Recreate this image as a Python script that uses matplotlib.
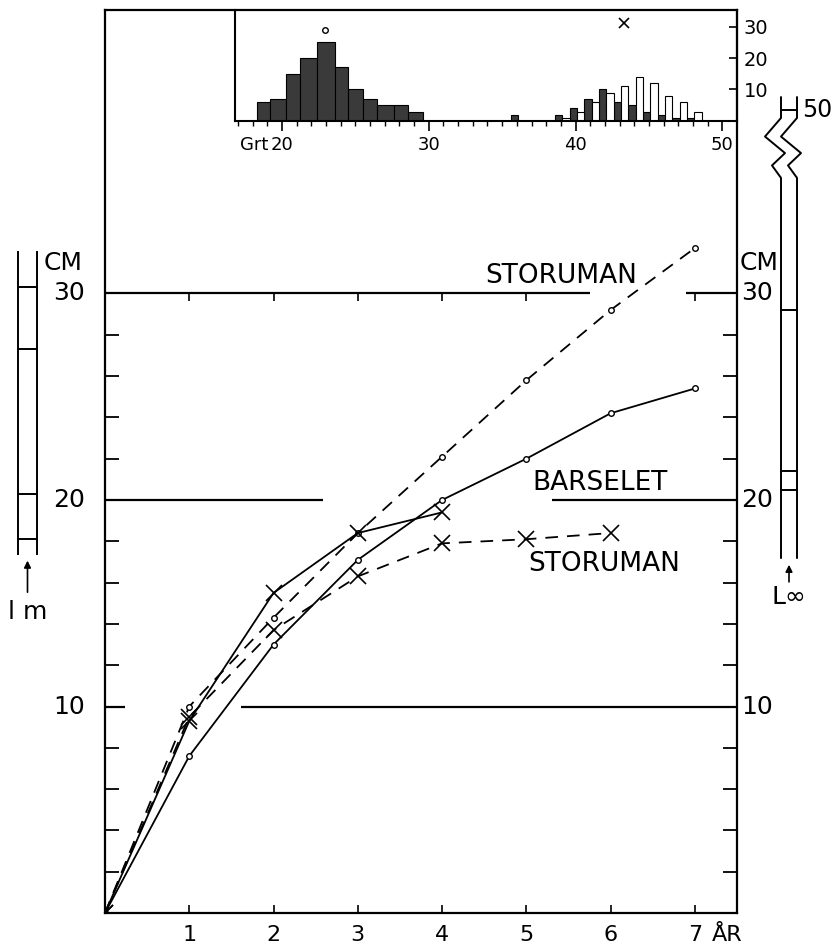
import matplotlib
matplotlib.use("Agg")
import matplotlib.pyplot as plt
import numpy as np

# growth curves, length (cm) per age (years)
years_a = [0, 1, 2, 3, 4, 5, 6, 7]
storuman_hi = [0, 10.0, 14.3, 18.4, 22.1, 25.8, 29.2, 32.2]   # dashed, circles
barselet_o = [0, 7.6, 13.0, 17.1, 20.0, 22.0, 24.2, 25.4]     # solid, circles
years_b = [0, 1, 2, 3, 4]
barselet_x = [0, 9.3, 15.5, 18.4, 19.4]                        # solid, crosses
years_c = [0, 1, 2, 3, 4, 5, 6]
storuman_lo = [0, 9.5, 13.7, 16.3, 17.9, 18.1, 18.4]           # dashed, crosses
year_labels = ['1', '2', '3', '4', '5', '6', '7']

# histogram (Grt), left group dark, right group dark / white
hist_edges_l = [18.3, 19.2, 20.3, 21.2, 22.4, 23.6, 24.5, 25.5, 26.5, 27.6, 28.6, 29.6]
hist_counts_l = [6, 7, 15, 20, 25, 17, 10, 7, 5, 5, 3]
hist_pos_r = [35.6, 38.6, 39.6, 40.6, 41.6, 42.6, 43.6, 44.6, 45.6, 46.6, 47.6]
hist_dark_r = [2, 2, 4, 7, 10, 6, 5, 3, 2, 1, 1]
hist_white_r = [0, 1, 3, 6, 9, 11, 14, 12, 8, 6, 3]
hist_mark_o = (22.9, 29)
hist_mark_x = (43.3, 31)

# scale bars (cm)
lm_range = (17.4, 32.0)
lm_marks = [18.1, 20.3, 27.3, 30.3]
linf_range = (17.2, 39.5)
linf_marks = [20.5, 21.4, 29.2]
linf_50 = 38.9

W, H = 833, 947
fig = plt.figure(figsize=(W / 100, H / 100), dpi=100)
plt.rcParams['font.family'] = ['DejaVu Sans']

# main axes: x 105..737 px, y 913..10 px
ax = fig.add_axes([105 / W, 1 - 913 / H, 632 / W, 903 / H])
ax.set_xlim(0, 7.5)
ax.set_ylim(0, 903 / 20.65)
for s in ax.spines.values():
    s.set_linewidth(1.6)

years = [1, 2, 3, 4, 5, 6, 7]
ax.set_xticks(years)
ax.set_xticklabels([])
ax.tick_params(axis='x', direction='in', length=6, width=1.2)
for yr, lab in zip(years, year_labels):
    ax.annotate(lab, xy=(yr, 0), xycoords=('data', 'axes fraction'), xytext=(0, -20),
                textcoords='offset points', ha='center', va='baseline', fontsize=16)
ax.annotate('ÅR', xy=(7.2, 0), xycoords=('data', 'axes fraction'), xytext=(0, -20),
            textcoords='offset points', ha='left', va='baseline', fontsize=16)

ax.set_yticks(np.arange(2, 31, 2))
ax.set_yticklabels([])
ax.tick_params(axis='y', direction='in', length=10, width=1.3, left=True, right=True)

yt = ax.get_yaxis_transform()
for v in [10, 20, 30]:
    ax.text(-0.032, v, str(v), transform=yt, ha='right', va='center', fontsize=18)
    ax.text(1.006, v, str(v), transform=yt, ha='left', va='center', fontsize=18)
ax.text(-0.035, 31.5, 'CM', transform=yt, ha='right', va='center', fontsize=18)
ax.text(1.004, 31.5, 'CM', transform=yt, ha='left', va='center', fontsize=18)

# reference lines
kw = dict(color='black', lw=1.6)
ax.hlines(30, 0, 5.75, **kw)
ax.hlines(30, 6.9, 7.5, **kw)
ax.hlines(20, 0, 2.59, **kw)
ax.hlines(20, 5.31, 7.5, **kw)
ax.hlines(10, 1.61, 7.5, **kw)
ax.hlines(10, 0, 0.24, **kw)
ax.vlines([1, 2, 3, 4, 5, 7], 30 - 0.35, 30, color='black', lw=1.2)

ax.text(5.41, 30.85, 'STORUMAN', ha='center', va='center', fontsize=19)
ax.text(5.87, 20.8, 'BARSELET', ha='center', va='center', fontsize=19)
ax.text(5.92, 16.9, 'STORUMAN', ha='center', va='center', fontsize=19)

# curves
lw = 1.3
ax.plot(years_a, storuman_hi, color='black', lw=lw, dashes=(7, 5),
        marker='o', ms=4, mfc='white', mec='black', mew=1)
ax.plot(years_a, barselet_o, color='black', lw=lw,
        marker='o', ms=4, mfc='white', mec='black', mew=1)
ax.plot(years_b, barselet_x, color='black', lw=lw, marker='x', ms=11, mew=1.2)
ax.plot(years_c, storuman_lo, color='black', lw=lw, dashes=(7, 5), marker='x', ms=11, mew=1.2)

# scale bars outside the axes
bar_kw = dict(color='black', lw=1.4, transform=yt, clip_on=False)

xl0, xl1 = (18 - 105) / 632, (37 - 105) / 632
ax.plot([xl0, xl0], lm_range, **bar_kw)
ax.plot([xl1, xl1], lm_range, **bar_kw)
for m in lm_marks:
    ax.plot([xl0, xl1], [m, m], **bar_kw)
xm = (xl0 + xl1) / 2
ax.annotate('', xy=(xm, lm_range[0] - 0.2), xytext=(xm, 15.4), xycoords=yt,
            arrowprops=dict(arrowstyle='-|>', color='black', lw=1.2), annotation_clip=False)
ax.text(xm, 14.6, 'l m', transform=yt, ha='center', va='center', fontsize=18)

# L-infinity bar with a zigzag break between 50 and the cm scale
xr0, xr1 = (781 - 105) / 632, (797 - 105) / 632
zig_dx = np.array([0, 0, -16, 4, -9, 0, 0]) / 632
zig_y = np.array([linf_range[1], 38.5, 37.6, 36.8, 36.2, 35.6, linf_range[0]])
ax.plot(xr0 + zig_dx, zig_y, **bar_kw)
ax.plot(xr1 + zig_dx, zig_y, **bar_kw)
for m in linf_marks + [linf_50]:
    ax.plot([xr0, xr1], [m, m], **bar_kw)
ax.text(xr1 + 0.008, linf_50, '50', transform=yt, ha='left', va='center', fontsize=17)
xm = (xr0 + xr1) / 2
ax.annotate('', xy=(xm, linf_range[0] - 0.2), xytext=(xm, 15.9), xycoords=yt,
            arrowprops=dict(arrowstyle='-|>', color='black', lw=1.2), annotation_clip=False)
ax.text(xm, 15.3, 'L∞', transform=yt, ha='center', va='center', fontsize=18)

# histogram inset
hx = fig.add_axes([235 / W, 1 - 121 / H, 502 / W, 111 / H])
hx.set_xlim(16.8, 51.0)
hx.set_ylim(0, 111 / 3.15)
hx.patch.set_alpha(0)
hx.spines['top'].set_visible(False)
for s in ['left', 'bottom', 'right']:
    hx.spines[s].set_linewidth(1.5)
edges = np.array(hist_edges_l)
hx.bar(edges[:-1], hist_counts_l, width=np.diff(edges), align='edge',
       color='#3a3a3a', edgecolor='black', lw=0.8)
pos = np.array(hist_pos_r)
hx.bar(pos, hist_dark_r, width=0.5, align='edge', color='#3a3a3a', edgecolor='black', lw=0.8)
hx.bar(pos + 0.5, hist_white_r, width=0.5, align='edge', color='white', edgecolor='black', lw=0.8)
hx.plot(*hist_mark_o, marker='o', ms=4, mfc='white', mec='black', mew=1)
hx.plot(*hist_mark_x, marker='x', ms=7, mew=1.2, color='black')
hx.set_xticks([20, 30, 40, 50])
hx.set_xticklabels(['20', '30', '40', '50'])
hx.set_xticks(np.arange(17, 51), minor=True)
hx.tick_params(axis='x', which='major', direction='out', length=7, width=1.2, pad=4, labelsize=13)
hx.tick_params(axis='x', which='minor', direction='out', length=3.5, width=1.0)
hx.yaxis.tick_right()
hx.set_yticks([10, 20, 30])
hx.tick_params(axis='y', direction='in', length=6, width=1.2, pad=5, labelsize=14)
hx.annotate('Grt', xy=(19.1, 0), xycoords=('data', 'axes fraction'), xytext=(0, -11),
            textcoords='offset points', ha='right', va='top', fontsize=13)

fig.savefig('out.png', dpi=100, facecolor='white')
